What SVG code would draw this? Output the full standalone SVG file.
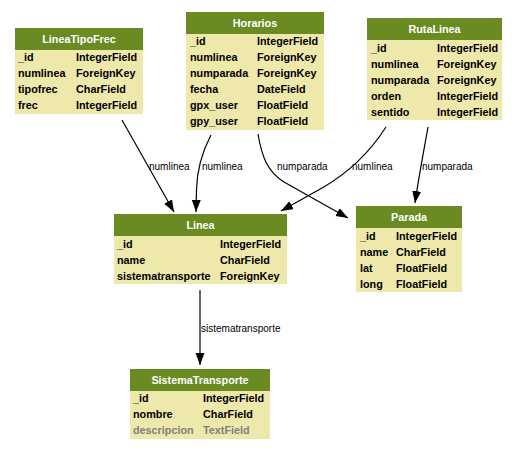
<svg xmlns="http://www.w3.org/2000/svg" width="520" height="451" viewBox="0 0 520 451">
<style>
.hd{fill:#698b22}
.bd{fill:#eee8aa}
.ht{font-family:"Liberation Sans",Arial,sans-serif;font-weight:bold;font-size:10.8px;fill:#ffffff;text-anchor:middle}
.ft{font-family:"Liberation Sans",Arial,sans-serif;font-weight:bold;font-size:10.8px;fill:#000000}
.gr{fill:#7f7f7f}
.el{font-family:"Liberation Sans",Arial,sans-serif;font-size:10px;fill:#000000}
.ed{fill:none;stroke:#000;stroke-width:1.2}
</style>
<defs>
<marker id="ah" markerUnits="userSpaceOnUse" markerWidth="13" markerHeight="10" refX="12" refY="4.5" orient="auto">
<path d="M0,0 L12,4.5 L0,9 z" fill="#000"/>
</marker>
</defs>
<rect width="520" height="451" fill="#ffffff"/>
<g id="connectors">
<path class="ed" d="M122,120 L174,212" marker-end="url(#ah)"/>
<path class="ed" d="M211,135 C202,152 197,168 196.5,190 L196,212" marker-end="url(#ah)"/>
<path class="ed" d="M258,134 C262,158 268,172 284,182 L348,218" marker-end="url(#ah)"/>
<path class="ed" d="M386,127 C370,152 350,172 322,188 L281,211" marker-end="url(#ah)"/>
<path class="ed" d="M428,127 C424,150 419,175 415,203" marker-end="url(#ah)"/>
<path class="ed" d="M200,290 L200,365" marker-end="url(#ah)"/>
<text class="el" x="149" y="170">numlinea</text>
<text class="el" x="202" y="170">numlinea</text>
<text class="el" x="277" y="170">numparada</text>
<text class="el" x="352" y="170">numlinea</text>
<text class="el" x="422" y="170">numparada</text>
<text class="el" x="201" y="332">sistematransporte</text>
</g>
<g id="LineaTipoFrec">
<rect class="bd" x="15" y="50" width="128" height="64"/>
<rect class="hd" x="15" y="28" width="128" height="22"/>
<text class="ht" x="79" y="43">LineaTipoFrec</text>
<text class="ft" x="18" y="61">_id</text><text class="ft" x="76" y="61">IntegerField</text>
<text class="ft" x="18" y="77">numlinea</text><text class="ft" x="76" y="77">ForeignKey</text>
<text class="ft" x="18" y="93">tipofrec</text><text class="ft" x="76" y="93">CharField</text>
<text class="ft" x="18" y="109">frec</text><text class="ft" x="76" y="109">IntegerField</text>
</g>
<g id="Horarios">
<rect class="bd" x="186" y="34" width="138" height="96"/>
<rect class="hd" x="186" y="12" width="138" height="22"/>
<text class="ht" x="255" y="27">Horarios</text>
<text class="ft" x="190" y="45">_id</text><text class="ft" x="257" y="45">IntegerField</text>
<text class="ft" x="190" y="61">numlinea</text><text class="ft" x="257" y="61">ForeignKey</text>
<text class="ft" x="190" y="77">numparada</text><text class="ft" x="257" y="77">ForeignKey</text>
<text class="ft" x="190" y="93">fecha</text><text class="ft" x="257" y="93">DateField</text>
<text class="ft" x="190" y="109">gpx_user</text><text class="ft" x="257" y="109">FloatField</text>
<text class="ft" x="190" y="125">gpy_user</text><text class="ft" x="257" y="125">FloatField</text>
</g>
<g id="RutaLinea">
<rect class="bd" x="367" y="40" width="135" height="80"/>
<rect class="hd" x="367" y="18" width="135" height="22"/>
<text class="ht" x="434.5" y="33">RutaLinea</text>
<text class="ft" x="371" y="52">_id</text><text class="ft" x="437" y="52">IntegerField</text>
<text class="ft" x="371" y="68">numlinea</text><text class="ft" x="437" y="68">ForeignKey</text>
<text class="ft" x="371" y="84">numparada</text><text class="ft" x="437" y="84">ForeignKey</text>
<text class="ft" x="371" y="100">orden</text><text class="ft" x="437" y="100">IntegerField</text>
<text class="ft" x="371" y="116">sentido</text><text class="ft" x="437" y="116">IntegerField</text>
</g>
<g id="Linea">
<rect class="bd" x="114" y="236" width="173" height="48"/>
<rect class="hd" x="114" y="214" width="173" height="22"/>
<text class="ht" x="200.5" y="229">Linea</text>
<text class="ft" x="117" y="248">_id</text><text class="ft" x="220" y="248">IntegerField</text>
<text class="ft" x="117" y="264">name</text><text class="ft" x="220" y="264">CharField</text>
<text class="ft" x="117" y="280">sistematransporte</text><text class="ft" x="220" y="280">ForeignKey</text>
</g>
<g id="Parada">
<rect class="bd" x="356" y="228" width="106" height="64"/>
<rect class="hd" x="356" y="206" width="106" height="22"/>
<text class="ht" x="409" y="221">Parada</text>
<text class="ft" x="360" y="240">_id</text><text class="ft" x="396" y="240">IntegerField</text>
<text class="ft" x="360" y="256">name</text><text class="ft" x="396" y="256">CharField</text>
<text class="ft" x="360" y="272">lat</text><text class="ft" x="396" y="272">FloatField</text>
<text class="ft" x="360" y="288">long</text><text class="ft" x="396" y="288">FloatField</text>
</g>
<g id="SistemaTransporte">
<rect class="bd" x="130" y="391" width="140" height="48"/>
<rect class="hd" x="130" y="369" width="140" height="22"/>
<text class="ht" x="200" y="384">SistemaTransporte</text>
<text class="ft" x="133" y="402">_id</text><text class="ft" x="203" y="402">IntegerField</text>
<text class="ft" x="133" y="418">nombre</text><text class="ft" x="203" y="418">CharField</text>
<text class="ft gr" x="133" y="434">descripcion</text><text class="ft gr" x="203" y="434">TextField</text>
</g>
</svg>
